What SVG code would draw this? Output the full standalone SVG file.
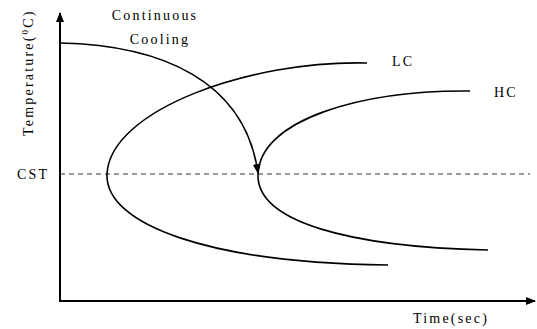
<svg xmlns="http://www.w3.org/2000/svg" width="537" height="329" viewBox="0 0 537 329">
<style>
text{font-family:'Liberation Serif','Times New Roman',serif;font-size:14px;fill:#000;letter-spacing:2.2px}
.c{fill:none;stroke:#000;stroke-width:1.6}
.ax{fill:none;stroke:#000;stroke-width:2}
</style>
<defs>
<marker id="ah" markerWidth="10" markerHeight="10" refX="9" refY="5" orient="auto" markerUnits="userSpaceOnUse">
<path d="M0,1 L10,5 L0,9 Z" fill="#000"/>
</marker>
</defs>
<rect width="537" height="329" fill="#fff"/>
<g id="axes">
<line class="ax" x1="60" y1="302" x2="60" y2="13" marker-end="url(#ah)"/>
<line class="ax" x1="59" y1="301" x2="535" y2="301" marker-end="url(#ah)"/>
</g>
<g id="connectors">
<line x1="60" y1="174" x2="530" y2="174" stroke="#333" stroke-width="1" stroke-dasharray="5,4"/>
<path id="cooling" class="c" d="M60,43 C160,45 245,80 258,173" marker-end="url(#ah)"/>
</g>
<g id="LC"><path class="c" d="M367,63 C250,60 110,110 107,174 C105,225 210,263 388,265"/></g>
<g id="HC"><path class="c" d="M470,91 C360,90 260,120 258,174 C256,222 350,247 488,250"/></g>
<g id="labels">
<text x="155" y="20" text-anchor="middle" letter-spacing="2.8">Continuous</text>
<text x="160" y="44" text-anchor="middle" letter-spacing="2.8">Cooling</text>
<text x="392" y="66">LC</text>
<text x="494" y="97">HC</text>
<text x="17" y="179">CST</text>
<text x="413" y="323" letter-spacing="1">Time(sec)</text>
<text transform="translate(33,136) rotate(-90)" letter-spacing="0">Temperature(<tspan font-size="9" dy="-5">0</tspan><tspan dy="5">C)</tspan></text>
</g>
</svg>
